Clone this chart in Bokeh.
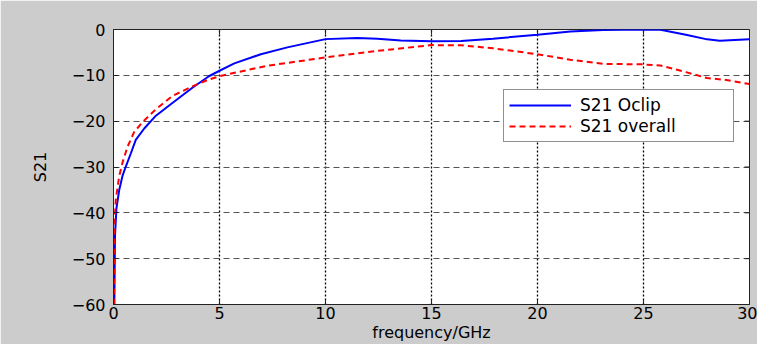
import math
from bokeh.plotting import figure
from bokeh.models import Range1d, FixedTicker, Legend, LegendItem
from bokeh.embed import file_html
from bokeh.resources import INLINE

# ---- data ----
freq_oclip = [0.04, 0.07, 0.14, 0.27, 0.42, 0.58, 0.82, 1.05, 1.45, 2.0, 2.7, 3.72,
              4.5, 5.0, 5.7, 6.95, 8.2, 10.0, 11.5, 12.45, 13.55, 15.0, 16.4, 17.9,
              20.0, 21.55, 23.1, 24.9, 25.8, 27.0, 28.0, 28.6, 30.0]
s21_oclip = [-60, -45, -39, -35, -32, -29.9, -27, -24.1, -21.6, -18.8, -16.3, -12.7,
             -10.2, -9.0, -7.4, -5.4, -3.9, -2.1, -1.85, -2.0, -2.4, -2.55, -2.5, -2.0,
             -1.15, -0.45, -0.1, 0.0, -0.05, -1.15, -2.15, -2.45, -2.15]

freq_overall = [0.02, 0.05, 0.11, 0.27, 0.42, 0.66, 0.97, 1.37, 2.0, 2.78, 3.72, 4.5,
                5.0, 5.45, 7.27, 10.0, 12.0, 15.0, 16.4, 17.9, 20.0, 21.55, 23.1, 24.9,
                25.8, 27.0, 28.0, 28.9, 30.0]
s21_overall = [-60, -42, -37, -32, -29.1, -25.6, -22.4, -20.2, -17.4, -14.5, -12.4, -10.9,
               -10.2, -9.7, -7.9, -6.1, -4.9, -3.4, -3.45, -4.1, -5.4, -6.6, -7.5, -7.6,
               -7.85, -9.3, -10.6, -11.0, -11.9]

x_ticks = [0, 5, 10, 15, 20, 25, 30]
y_ticks = [-60, -50, -40, -30, -20, -10, 0]
series_labels = ["S21 Oclip", "S21 overall"]
x_title = "frequency/GHz"
y_title = "S21"

FONT = "DejaVu Sans"
GRAY = "#cccccc"
EDGE = "#222222"

x_min, x_max = x_ticks[0], x_ticks[-1]
y_min, y_max = y_ticks[0], y_ticks[-1]

p = figure(width=757, height=344, output_backend="svg", toolbar_location=None,
           x_range=Range1d(x_min, x_max), y_range=Range1d(y_min, y_max),
           min_border_left=113, min_border_right=8, min_border_top=29, min_border_bottom=40)
p.border_fill_color = GRAY
p.background_fill_color = "white"
p.outline_line_color = EDGE
p.outline_line_width = 1

xt = FixedTicker(ticks=x_ticks, minor_ticks=[])
yt = FixedTicker(ticks=y_ticks, minor_ticks=[])

for ax in (p.xaxis[0], p.yaxis[0]):
    ax.major_tick_in = 5
    ax.major_tick_out = 0
    ax.minor_tick_line_color = None
    ax.axis_line_color = EDGE
    ax.major_tick_line_color = EDGE
    ax.major_label_text_font = FONT
    ax.major_label_text_font_size = "16px"
    ax.major_label_text_color = "black"
    ax.axis_label_text_font = FONT
    ax.axis_label_text_font_size = "16px"
    ax.axis_label_text_font_style = "normal"
    ax.axis_label_text_color = "black"

p.xaxis[0].ticker = xt
p.yaxis[0].ticker = yt
p.xaxis[0].axis_label = x_title
p.yaxis[0].axis_label = y_title
p.xaxis[0].major_label_standoff = 2
p.xaxis[0].axis_label_standoff = 1
p.yaxis[0].major_label_standoff = 8
p.yaxis[0].axis_label_standoff = 19

p.xgrid.ticker = xt
p.ygrid.ticker = yt
p.xgrid.grid_line_color = "black"
p.xgrid.grid_line_dash = "2 2"
p.xgrid.grid_line_width = 1.3
p.ygrid.grid_line_color = "#555555"
p.ygrid.grid_line_dash = "6 4"
p.ygrid.grid_line_width = 1

# inward box ticks on the top and right edges
p.ray(x=x_ticks, y=[y_max] * len(x_ticks), length=5, length_units="screen",
      angle=-math.pi / 2, line_color=EDGE, line_width=1)
p.ray(x=[x_max] * len(y_ticks), y=y_ticks, length=5, length_units="screen",
      angle=math.pi, line_color=EDGE, line_width=1)

r1 = p.line(freq_oclip, s21_oclip, line_color="#0000ff", line_width=2)
r2 = p.line(freq_overall, s21_overall, line_color="#ff0000", line_width=2, line_dash="6 4")

legend = Legend(items=[LegendItem(label=series_labels[0], renderers=[r1]),
                       LegendItem(label=series_labels[1], renderers=[r2])],
                location=(390, 162))
legend.label_text_font = FONT
legend.label_text_font_size = "17px"
legend.label_text_color = "black"
legend.glyph_width = 62
legend.glyph_height = 18
legend.label_height = 18
legend.label_width = 148
legend.label_standoff = 9
legend.spacing = 1
legend.padding = 5
legend.margin = 0
legend.border_line_color = EDGE
legend.border_line_width = 1
legend.background_fill_color = "white"
legend.background_fill_alpha = 1
p.add_layout(legend, "center")

open("out.html", "w").write(file_html(p, INLINE))
